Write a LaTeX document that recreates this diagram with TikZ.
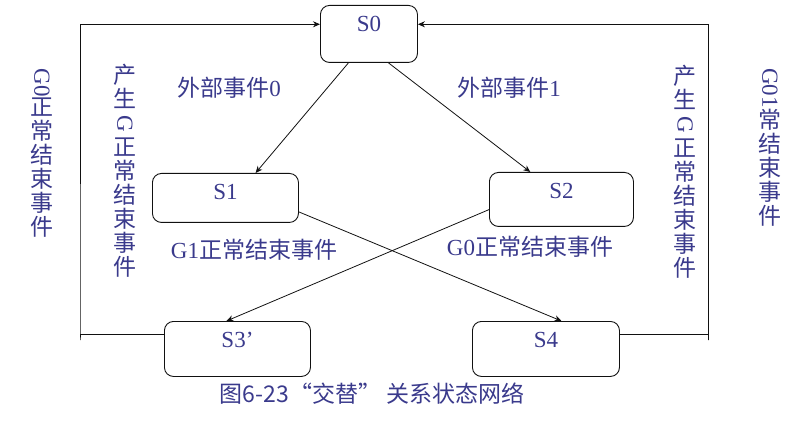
\documentclass[tikz,border=0pt]{standalone}
\usepackage{fontspec}
\usepackage{graphicx}
\setmainfont{Liberation Serif}
\newfontfamily\cjk{Noto Sans CJK SC}
\usetikzlibrary{arrows.meta,calc}
\definecolor{Ink}{HTML}{3A3A8C}
\definecolor{Edge}{HTML}{111111}
\tikzset{
  state/.style={draw=Edge, line width=0.9pt, rounded corners=9pt, anchor=north west,
    inner sep=0pt, text height=25.6pt, text=Ink, font=\fontsize{23}{24}\selectfont},
  lbl/.style={text=Ink, inner sep=0pt, font=\fontsize{23}{24}\selectfont\cjk},
  vlbl/.style={lbl, align=center},
  flow/.style={draw=Edge, line width=0.8pt, -{Stealth[length=7pt,width=6pt]}}
}

\begin{document}
\begin{tikzpicture}[x=1pt,y=-1pt]
    \useasboundingbox (0,0) rectangle (794,430);
    % states
    \node[state, minimum width=97pt, text depth=31.4pt] (s0) at (320,5) {S0};
    \node[state, minimum width=146pt, text depth=23.4pt] (s1) at (152,173) {S1};
    \node[state, minimum width=144pt, text depth=28.4pt] (s2) at (489,172) {S2};
    \node[state, minimum width=146pt, text depth=29.4pt] (s3) at (164,321) {S3’};
    \node[state, minimum width=147pt, text depth=29.4pt] (s4) at (472,321) {S4};
    % transitions
    \draw[flow] ($(s0.south west)!0.29!(s0.south east)$) -- ($(s1.north west)!0.705!(s1.north east)$);
    \draw[flow] ($(s0.south west)!0.70!(s0.south east)$) -- ($(s2.north west)!0.285!(s2.north east)$);
    \draw[flow] ($(s1.north east)!0.78!(s1.south east)$) -- ($(s4.north west)!0.605!(s4.north east)$);
    \draw[flow] ($(s2.north west)!0.685!(s2.south west)$) -- ($(s3.north west)!0.425!(s3.north east)$);
    % back to S0
    \coordinate (lb) at (80,340);
    \coordinate (rb) at (708,340);
    \draw[flow] ($(s3.north west)!0.24!(s3.south west)$) -| (lb) |- ($(s0.north west)!0.333!(s0.south west)$);
    \draw[flow] ($(s4.north east)!0.24!(s4.south east)$) -| (rb) |- ($(s0.north east)!0.333!(s0.south east)$);
    % labels
    \node[lbl] (e0) at (229,88) {外部事件{\rmfamily 0}};
    \node[lbl] (e1) at (509,88) {外部事件{\rmfamily 1}};
    \node[lbl] (g1) at (254,250) {{\rmfamily G1}正常结束事件};
    \node[lbl] (g0) at (530,247) {{\rmfamily G0}正常结束事件};
    \node[vlbl] (vl) at (42,153) {\rotatebox[origin=c]{-90}{\rmfamily G0}\\正\\常\\结\\束\\事\\件};
    \node[vlbl] (vm) at (125,171) {产\\生\\\rotatebox[origin=c]{-90}{\rmfamily G}\\正\\常\\结\\束\\事\\件};
    \node[vlbl] (vn) at (685,172) {产\\生\\\rotatebox[origin=c]{-90}{\rmfamily G}\\正\\常\\结\\束\\事\\件};
    \node[vlbl] (vr) at (770,147) {\rotatebox[origin=c]{-90}{\rmfamily G01}\\常\\结\\束\\事\\件};
    \node[lbl] (cap) at (372,394) {图6-23“交替” 关系状态网络};
\end{tikzpicture}
\end{document}
